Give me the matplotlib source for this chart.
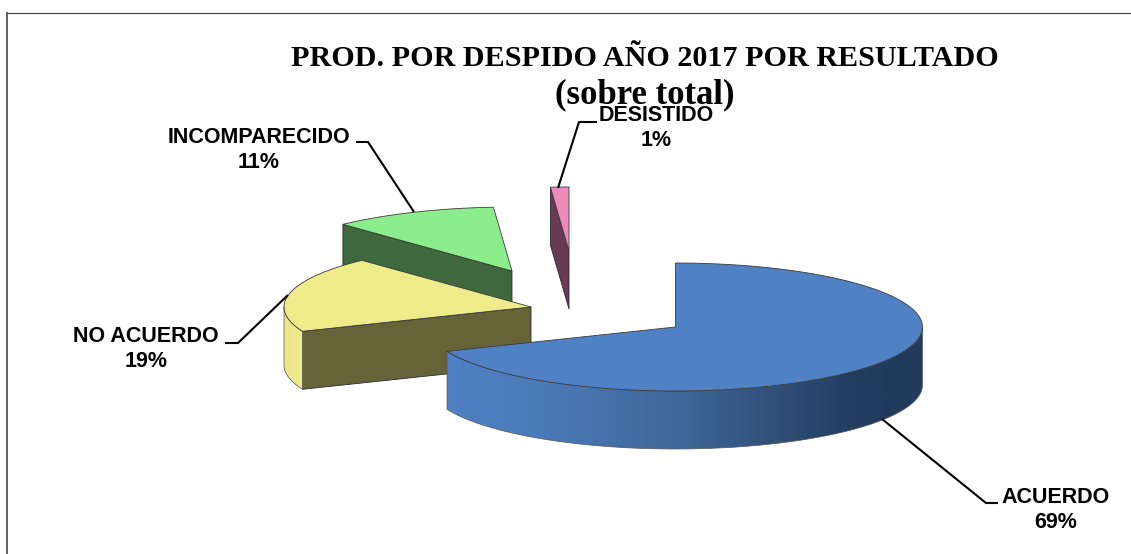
import numpy as np
import matplotlib
matplotlib.use('Agg')
import matplotlib.pyplot as plt
from matplotlib.colors import LinearSegmentedColormap
from matplotlib.patches import Polygon

categorias = ['ACUERDO', 'NO ACUERDO', 'INCOMPARECIDO', 'DESISTIDO']
porcentajes = [68.8, 19.2, 10.8, 1.2]
titulo = 'PROD. POR DESPIDO AÑO 2017 POR RESULTADO'
subtitulo = '(sobre total)'

color_arriba = ['#4F81C4', '#EEEC8A', '#8CED8C', '#EE8BBB']
color_corte = ['#223A5C', '#666339', '#3F683F', '#673A56']

# vertice de cada porcion en pixeles (la explosion del grafico)
vertices = [(675.5, 327), (531, 307), (512, 271), (569, 251)]
RX, RY, ALTO = 247, 64, 58

# posicion del texto y linea guia de cada etiqueta
pos_etiqueta = [(1056, 510), (146, 349), (258.5, 150), (656, 128)]
guias = [
    [(882, 419), (986, 503), (998, 503)],
    [(288, 295), (238, 343), (225, 343)],
    [(414, 212), (368, 142), (356, 142)],
    [(558, 188), (579, 122), (597, 122)],
]


def borde(c, a0, a1, n=80):
    # angulos en grados, sentido horario desde las 12
    t = np.radians(np.linspace(a0, a1, n))
    return np.column_stack([c[0] + RX * np.sin(t), c[1] - RY * np.cos(t)])


def pared(ax, c, a0, a1, colores, z):
    # pared curva visible, solo la parte delantera (90 a 270 grados)
    a0, a1 = max(a0, 90), min(a1, 270)
    if a1 <= a0:
        return
    arco = borde(c, a0, a1)
    bajo = arco[::-1] + [0, ALTO]
    pol = Polygon(np.vstack([arco, bajo]), closed=True, fc='none',
                  ec='#555555', lw=0.5, zorder=z + 0.1)
    ax.add_patch(pol)
    x0, x1 = arco[:, 0].min(), arco[:, 0].max()
    y0, y1 = arco[:, 1].min(), bajo[:, 1].max()
    cmap = LinearSegmentedColormap.from_list('g', colores)
    im = ax.imshow(np.linspace(0, 1, 256)[None, :], cmap=cmap, aspect='auto',
                   extent=(x0, x1, y1, y0), zorder=z, interpolation='bilinear')
    im.set_clip_path(pol)


fig = plt.figure(figsize=(11.31, 5.54), dpi=100)
ax = fig.add_axes([0, 0, 1, 1])

fin = np.cumsum(porcentajes) * 3.6
inicio = fin - np.array(porcentajes) * 3.6

gradientes = [
    [(0.0, '#4F81C4'), (0.2, '#4A7AB8'), (0.5, '#3F6697'), (0.85, '#243D60'), (1.0, '#223A5C')],
    [(0.0, '#E8E68A'), (1.0, '#EEEC8A')],
    [(0.0, '#3F683F'), (1.0, '#3F683F')],
    [(0.0, '#673A56'), (1.0, '#673A56')],
]

# de atras hacia adelante
for i in [3, 2, 1, 0]:
    c = vertices[i]
    z = 10 - i * 2
    ini = borde(c, inicio[i], inicio[i], 1)[0]
    # cara de corte que mira al frente
    if i > 0:
        cara = [c, ini, ini + [0, ALTO], np.array(c) + [0, ALTO]]
        ax.add_patch(Polygon(cara, closed=True, fc=color_corte[i], ec='#2A2A2A',
                             lw=0.6, zorder=z))
    pared(ax, c, inicio[i], fin[i], gradientes[i], z + 0.2)
    tapa = np.vstack([[c], borde(c, inicio[i], fin[i])])
    ax.add_patch(Polygon(tapa, closed=True, fc=color_arriba[i], ec='#3A3A3A',
                         lw=0.6, zorder=z + 0.5))

for g in guias:
    g = np.array(g)
    ax.plot(g[:, 0], g[:, 1], color='black', lw=1.5, zorder=20, solid_capstyle='butt')

for nombre, p, (x, y) in zip(categorias, porcentajes, pos_etiqueta):
    ax.text(x, y, f'{nombre}\n{p:.0f}%', ha='center', va='center', family='Liberation Sans',
            fontweight='bold', fontsize=15.5, linespacing=1.25, zorder=30)

ax.text(645, 58, titulo, ha='center', va='center', family='Liberation Serif',
        fontweight='bold', fontsize=21.7, zorder=25)
ax.text(645, 95, subtitulo, ha='center', va='center', family='Liberation Serif',
        fontweight='bold', fontsize=25, zorder=25)

# marco del grafico, solo se ven arriba e izquierda
ax.plot([6.5, 1131], [12.5, 12.5], color='#404040', lw=0.8, zorder=40)
ax.plot([6.5, 6.5], [12.5, 554], color='#606060', lw=1.4, zorder=40)

ax.set_xlim(0, 1131)
ax.set_ylim(554, 0)
ax.axis('off')
fig.savefig('out.png', dpi=100, facecolor='white')
